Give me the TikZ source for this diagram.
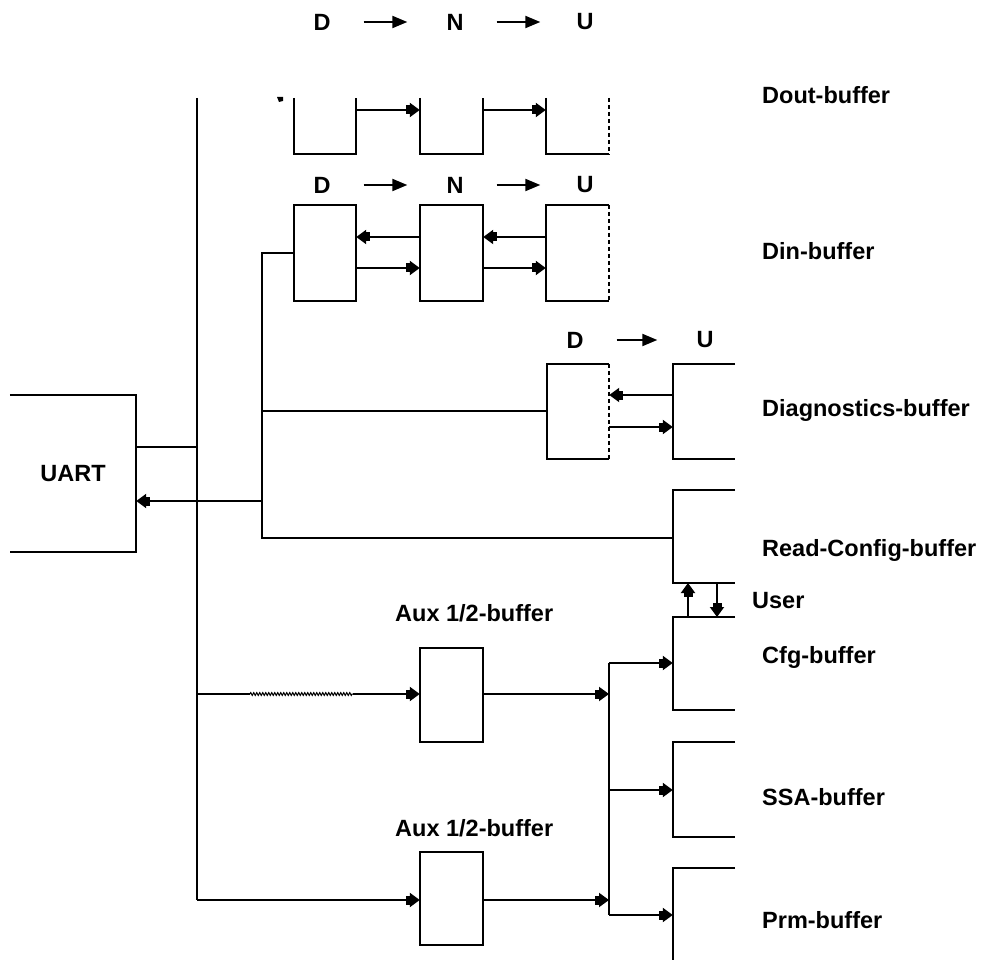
\documentclass[tikz,border=0pt]{standalone}
\usepackage{fontspec}
\setmainfont{Liberation Sans}
\usetikzlibrary{arrows.meta,decorations.pathmorphing,calc}
\begin{document}
\begin{tikzpicture}[x=1pt,y=-1pt,
  wire/.style={line width=2pt},
  dashwire/.style={line width=2pt,dash pattern=on 4.5pt off 2.5pt},
  arr/.style={wire,-{Square[length=4pt,width=9pt,sep=0pt]Triangle[length=10pt,width=14pt]}},
  hdr/.style={wire,-{Triangle[length=15pt,width=12pt]}},
  lbl/.style={font=\bfseries\fontsize{23.5}{28}\selectfont,inner sep=0pt},
  rlbl/.style={lbl,anchor=west},
  bx/.style={inner sep=0pt,minimum width=#1},
  bx/.default=62pt
]
\useasboundingbox (0,0) rectangle (983,960);

% ---- header labels
\node[lbl] (hD1) at (322,22) {D};
\node[lbl] (hN1) at (455,22) {N};
\node[lbl] (hU1) at (585,22) {U};
\node[lbl] (hD2) at (322,185) {D};
\node[lbl] (hN2) at (455,185) {N};
\node[lbl] (hU2) at (585,185) {U};
\node[lbl] (hD3) at (575,340) {D};
\node[lbl] (hU3) at (705,340) {U};
\draw[hdr] ([xshift=33pt]hD1.east) -- ([xshift=-39pt]hN1.west);
\draw[hdr] ([xshift=33pt]hN1.east) -- ([xshift=-36pt]hU1.west);
\draw[hdr] ([xshift=33pt]hD2.east) -- ([xshift=-39pt]hN2.west);
\draw[hdr] ([xshift=33pt]hN2.east) -- ([xshift=-36pt]hU2.west);
\draw[hdr] ([xshift=33pt]hD3.east) -- ([xshift=-39pt]hU3.west);

% ---- right labels
\node[rlbl] (lDout) at (762,95) {Dout-buffer};
\node[rlbl] (lDin)  at (762,251) {Din-buffer};
\node[rlbl] (lDiag) at (762,410) {Diagnostics-buffer};
\node[rlbl] (lRC)   at (762,550) {Read-Config-buffer};
\node[rlbl] (lUser) at (752,601) {User};
\node[rlbl] (lCfg)  at (762,657) {Cfg-buffer};
\node[rlbl] (lSSA)  at (762,797) {SSA-buffer};
\node[rlbl] (lPrm)  at (762,920) {Prm-buffer};
\node[rlbl] (lAux1) at (395,613) {Aux 1/2-buffer};
\node[rlbl] (lAux2) at (395,828) {Aux 1/2-buffer};

% ---- boxes (geometry)
\node[bx,minimum height=56pt] (doD) at (325,126) {};
\node[bx=63pt,minimum height=56pt] (doN) at (451.5,126) {};
\node[bx=63pt,minimum height=56pt] (doU) at (577.5,126) {};
\node[bx,minimum height=96pt] (diD) at (325,253) {};
\node[bx=63pt,minimum height=96pt] (diN) at (451.5,253) {};
\node[bx=63pt,minimum height=96pt] (diU) at (577.5,253) {};
\node[bx,minimum height=95pt] (dgD) at (578,411.5) {};
\node[bx,minimum height=95pt] (dgU) at (704,411.5) {};
\node[bx,minimum height=93pt] (rc) at (704,536.5) {};
\node[bx,minimum height=93pt] (cfg) at (704,663.5) {};
\node[bx,minimum height=95pt] (ssa) at (704,789.5) {};
\node[bx,minimum height=92pt] (prm) at (704,914) {};
\node[bx=63pt,minimum height=94pt] (aux1) at (451.5,695) {};
\node[bx=63pt,minimum height=93pt] (aux2) at (451.5,898.5) {};
\node[bx=126pt,minimum height=157pt] (uart) at (73,473.5) {};
\node[lbl] at (uart.center) {UART};

% Dout row: open at top
\foreach \b in {doD,doN} \draw[wire] (\b.north west) -- (\b.south west) -- (\b.south east) -- (\b.north east);
\draw[wire] (doU.north west) -- (doU.south west) -- (doU.south east);
\draw[dashwire] (doU.north east) -- (doU.south east);
\fill (277,97) -- (283,97) -- (283,101) -- (279,102) -- cycle;
% Din row
\foreach \b in {diD,diN} \draw[wire] (\b.north west) rectangle (\b.south east);
\draw[wire] (diU.south east) -- (diU.south west) -- (diU.north west) -- (diU.north east);
\draw[dashwire] (diU.north east) -- (diU.south east);
% Diagnostics
\draw[wire] (dgD.south east) -- (dgD.south west) -- (dgD.north west) -- (dgD.north east);
\draw[dashwire] (dgD.north east) -- (dgD.south east);
% open-right boxes
\foreach \b in {dgU,rc,cfg,ssa} \draw[wire] (\b.north east) -- (\b.north west) -- (\b.south west) -- (\b.south east);
\draw[wire] (prm.north east) -- (prm.north west) -- (prm.south west);
\foreach \b in {aux1,aux2} \draw[wire] (\b.north west) rectangle (\b.south east);
\draw[wire] (uart.north west) -- (uart.north east) -- (uart.south east) -- (uart.south west);

% ---- buses
\coordinate (busT) at (197,98);
\coordinate (busB) at (197,900);
\coordinate (b2T) at (262,253);
\coordinate (b2B) at (262,538);
\coordinate (b3T) at (609,663);
\coordinate (b3B) at (609,915);
\draw[wire] (busT) -- (busB);
\draw[arr] (busB) -- (aux2.west |- busB);
\draw[wire] (uart.east |- 0,447) -- (busT |- 0,447);
\draw[wire] (diD.west |- b2T) -- (b2T) -- (b2B) -- (rc.west |- b2B);
\draw[wire] (b2T |- 0,411) -- (dgD.west |- 0,411);
\draw[arr] (b2T |- 0,501) -- (uart.east |- 0,501);

% Dout arrows
\draw[arr] (doD.east |- 0,110) -- (doN.west |- 0,110);
\draw[arr] (doN.east |- 0,110) -- (doU.west |- 0,110);
% Din arrows
\draw[arr] (diN.west |- 0,237) -- (diD.east |- 0,237);
\draw[arr] (diU.west |- 0,237) -- (diN.east |- 0,237);
\draw[arr] (diD.east |- 0,268) -- (diN.west |- 0,268);
\draw[arr] (diN.east |- 0,268) -- (diU.west |- 0,268);
% Diagnostics arrows
\draw[arr] (dgU.west |- 0,395) -- (dgD.east |- 0,395);
\draw[arr] (dgD.east |- 0,427) -- (dgU.west |- 0,427);
% User arrows
\draw[arr] (688,617) -- (688,583);
\draw[arr] (717,583) -- (717,617);

% Aux feed with zigzag section
\coordinate (zA) at (250,694);
\coordinate (zB) at (353,694);
\draw[wire] (busT |- zA) -- (zA);
\draw[line width=1pt,decorate,decoration={zigzag,amplitude=1.4pt,segment length=3pt}] (zA) -- (zB);
\draw[arr] (zB) -- (aux1.west |- zB);
\draw[arr] (aux1.east |- 0,694) -- (b3T |- 0,694);
\draw[arr] (aux2.east |- 0,900) -- (b3T |- 0,900);
% right distribution bus
\draw[wire] (b3T) -- (b3B);
\draw[arr] (b3T) -- (cfg.west |- b3T);
\draw[arr] (b3T |- 0,790) -- (ssa.west |- 0,790);
\draw[arr] (b3B) -- (prm.west |- b3B);
\end{tikzpicture}
\end{document}
